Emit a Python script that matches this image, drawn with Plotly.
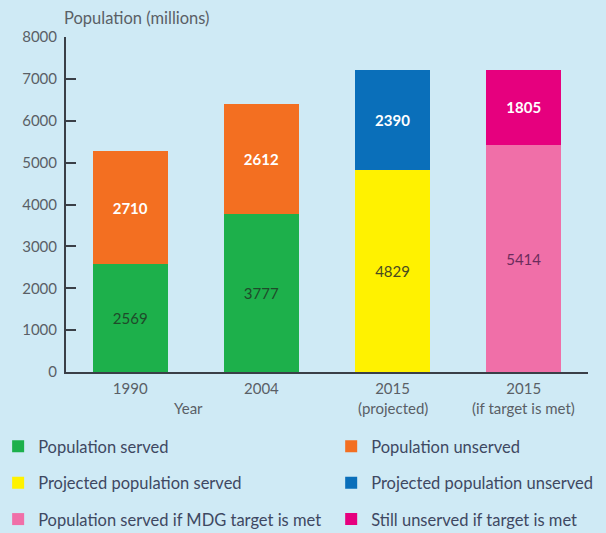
import plotly.graph_objects as go

# ---- data ----
categories = ["1990", "2004", "2015", "2015"]
sub_labels = ["", "", "(projected)", "(if target is met)"]
served = [2569, 3777]
unserved = [2710, 2612]
proj_served = [4829]
proj_unserved = [2390]
mdg_served = [5414]
still_unserved = [1805]
y_ticks = [0, 1000, 2000, 3000, 4000, 5000, 6000, 7000, 8000]

FONT = "Lato, sans-serif"
BG = "#cfeaf5"
GREY = "#5a5f66"
LEG = "#3e4862"

series = [
    ("Population served", [0, 1], served, "#1db04b", "#1f4a2a", "normal", "legend"),
    ("Population unserved", [0, 1], unserved, "#f36f21", "white", "bold", "legend2"),
    ("Projected population served", [2], proj_served, "#fff200", "#4a4a20", "normal", "legend"),
    ("Projected population unserved", [2], proj_unserved, "#0a6fba", "white", "bold", "legend2"),
    ("Population served if MDG target is met", [3], mdg_served, "#f06fa8", "#6b2c5c", "normal", "legend"),
    ("Still unserved if target is met", [3], still_unserved, "#e6007e", "white", "bold", "legend2"),
]

fig = go.Figure()
for i, (name, xs, vals, col, tcol, weight, leg) in enumerate(series):
    fig.add_trace(go.Bar(
        name=name, x=xs, y=vals, marker=dict(color=col, line=dict(width=0)),
        width=0.57, text=[str(v) for v in vals], textposition="inside",
        insidetextanchor="middle",
        textfont=dict(color=tcol, size=15, family=FONT, weight=weight),
        legend=leg, legendgroup="g%d" % i, hoverinfo="name+y",
    ))

leg_common = dict(orientation="v", xanchor="left", yanchor="top",
                  bgcolor="rgba(0,0,0,0)", font=dict(size=16.5, color=LEG, family=FONT),
                  traceorder="grouped", tracegroupgap=12, itemclick=False)

fig.update_layout(
    width=606, height=533,
    paper_bgcolor=BG, plot_bgcolor=BG,
    barmode="stack",
    margin=dict(l=66, r=18, t=37, b=161, autoexpand=False),
    font=dict(family=FONT, color=GREY, size=15),
    xaxis=dict(range=[-0.49, 3.49], tickvals=[0, 1, 2, 3], ticktext=categories,
               showline=True, linecolor="#3a3f47", linewidth=2, ticks="",
               showgrid=False, zeroline=False, ticklabelstandoff=2,
               tickfont=dict(size=15, color=GREY)),
    yaxis=dict(range=[0, 8000], tickvals=y_ticks, showline=True, linecolor="#3a3f47",
               linewidth=2, ticks="inside", ticklen=10, tickwidth=2, tickcolor="#3a3f47",
               showgrid=False, zeroline=False, ticklabelstandoff=4,
               tickfont=dict(size=15, color=GREY)),
    legend=dict(x=-0.130, y=-0.170, **leg_common),
    legend2=dict(x=0.508, y=-0.170, **leg_common),
    showlegend=True,
)

fig.add_annotation(text="Population (millions)", xref="paper", yref="paper",
                   x=-0.008, y=1.057, xanchor="left", yanchor="middle", showarrow=False,
                   font=dict(size=16.5, color=GREY, family=FONT))
fig.add_annotation(text="Year", xref="paper", yref="paper", x=0.234, y=-0.107,
                   xanchor="center", yanchor="middle", showarrow=False,
                   font=dict(size=15, color=GREY, family=FONT))
for i, s in enumerate(sub_labels):
    if s:
        fig.add_annotation(text=s, xref="x", yref="paper", x=i, y=-0.107,
                           xanchor="center", yanchor="middle", showarrow=False,
                           font=dict(size=15, color=GREY, family=FONT))

fig.write_html("out.html", config={"displayModeBar": False},
               post_script="document.body.style.margin='0';")
